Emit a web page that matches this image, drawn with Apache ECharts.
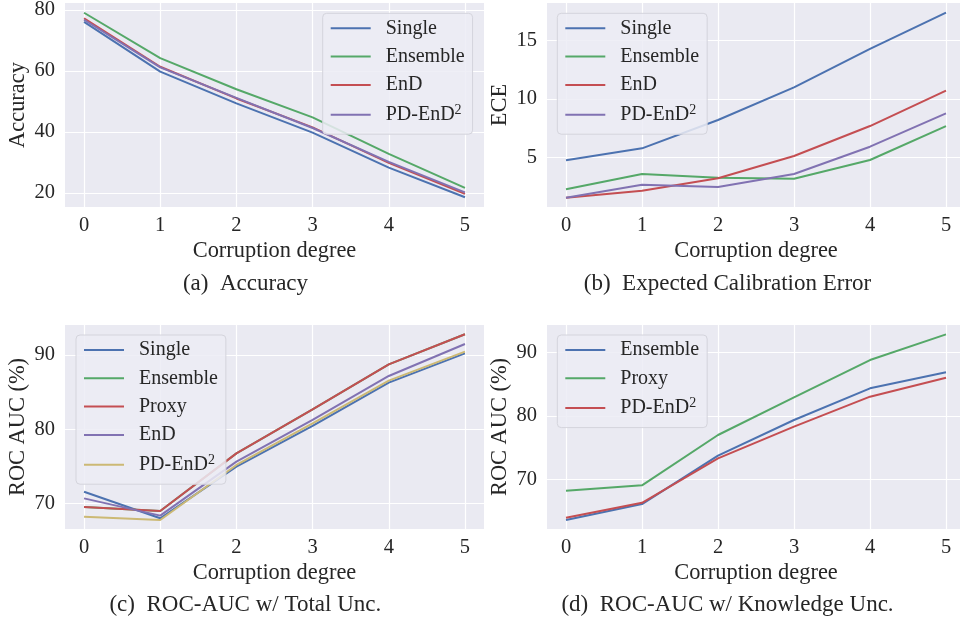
<!DOCTYPE html>
<html>
<head>
<meta charset="utf-8">
<script src="https://cdn.jsdelivr.net/npm/echarts@6/dist/echarts.min.js"></script>
<style>
html,body{margin:0;padding:0;background:#fff;}
#chart{width:960px;height:622px;}
</style>
</head>
<body>
<div id="chart"></div>
<script>
// x positions (corruption degree)
var degrees = [0, 1, 2, 3, 4, 5];
var xTicks = [0, 1, 2, 3, 4, 5];

// (a) Accuracy
var accSingle   = [76.1, 59.8, 49.4, 39.8, 28.3, 18.6];
var accEnsemble = [79.1, 64.2, 54.0, 44.8, 32.8, 21.7];
var accEnD      = [77.3, 61.4, 51.0, 41.5, 29.9, 19.7];
var accPD       = [76.8, 61.2, 51.2, 41.3, 30.2, 20.2];
var accTicks = [20, 40, 60, 80];

// (b) ECE
var eceSingle   = [4.74, 5.77, 8.2, 11.0, 14.3, 17.4];
var eceEnsemble = [2.26, 3.57, 3.25, 3.17, 4.77, 7.68];
var eceEnD      = [1.54, 2.14, 3.2, 5.11, 7.68, 10.71];
var ecePD       = [1.54, 2.65, 2.45, 3.57, 5.91, 8.77];
var eceTicks = [5, 10, 15];

// (c) ROC-AUC w/ total uncertainty
var totSingle   = [71.57, 67.98, 74.94, 80.43, 86.27, 90.22];
var totEnsemble = [69.51, 68.97, 76.74, 82.67, 88.74, 92.79];
var totProxy    = [69.51, 68.97, 76.74, 82.67, 88.74, 92.79];
var totEnD      = [70.67, 68.34, 75.62, 81.24, 87.17, 91.48];
var totPD       = [68.2, 67.75, 75.17, 80.79, 86.54, 90.45];
var aucTicks = [70, 80, 90];

// (d) ROC-AUC w/ knowledge uncertainty
var knoEnsemble = [63.58, 66.1, 73.74, 79.37, 84.37, 86.9];
var knoProxy    = [68.21, 69.05, 77.0, 82.95, 88.84, 92.89];
var knoPD       = [63.95, 66.3, 73.32, 78.32, 83.05, 86.05];

var BLUE='#4C72B0', GREEN='#55A868', RED='#C44E52', PURPLE='#8172B2', YELLOW='#CCB974';
var FONT='"Liberation Serif", "DejaVu Serif", serif';
var TXT='#262626';

var grids=[
	{left:65, top:3, width:419, height:204},
	{left:547, top:3, width:418, height:204},
	{left:65, top:325, width:419, height:204},
	{left:547, top:325, width:418, height:204}
];
var yRanges=[[15.4,82.3],[0.74,18.23],[66.54,94.04],[62.16,94.37]];
var yTickSets=[accTicks, eceTicks, aucTicks, aucTicks];
var yNames=['Accuracy','ECE','ROC AUC (%)','ROC AUC (%)'];

function xAxisFor(i){
	return {
		type:'value', gridIndex:i, min:-0.25, max:5.25,
		name:'Corruption degree', nameLocation:'middle', nameGap:33,
		nameTextStyle:{fontFamily:FONT, fontSize:22.4, color:TXT},
		axisLine:{show:false},
		axisTick:{show:false, customValues:xTicks},
		axisLabel:{customValues:xTicks, margin:8, fontFamily:FONT, fontSize:20.5, color:TXT},
		splitLine:{show:true, lineStyle:{color:'#ffffff', width:1.2}}
	};
}
function yAxisFor(i){
	return {
		type:'value', gridIndex:i, min:yRanges[i][0], max:yRanges[i][1],
		name:yNames[i], nameLocation:'middle', nameGap:36, nameRotate:90,
		nameTextStyle:{fontFamily:FONT, fontSize:22.4, color:TXT},
		axisLine:{show:false},
		axisTick:{show:false, customValues:yTickSets[i]},
		axisLabel:{customValues:yTickSets[i], margin:10, fontFamily:FONT, fontSize:20.5, color:TXT},
		splitLine:{show:true, lineStyle:{color:'#ffffff', width:1.2}}
	};
}
function line(panel, name, vals, color, gi){
	return {
		name:panel+'|'+name, type:'line', xAxisIndex:gi, yAxisIndex:gi,
		data:degrees.map(function(d,k){return [d, vals[k]];}),
		symbol:'none', silent:true,
		lineStyle:{color:color, width:2},
		itemStyle:{color:color}
	};
}
function legendFor(panel, names, left, top){
	return {
		orient:'vertical', left:left, top:top,
		data:names.map(function(n){return panel+'|'+n;}),
		icon:'rect', itemWidth:40, itemHeight:2, itemGap:8.3,
		backgroundColor:'rgba(236,236,244,0.85)', borderColor:'#d4d4dc', borderWidth:1, borderRadius:4,
		padding:[5,8,8,8],
		selectedMode:false,
		formatter:function(n){
			var s=n.split('|')[1];
			if(s==='PD-EnD²') return 'PD-EnD{s|2}';
			return s;
		},
		textStyle:{fontFamily:FONT, fontSize:20, color:TXT, lineHeight:20, padding:[0,0,0,10],
			rich:{s:{fontFamily:FONT, fontSize:14, lineHeight:20, padding:[0,0,9,0], color:TXT}}}
	};
}
function caption(text, cx, cy){
	return {type:'text', x:cx, y:cy, style:{text:text, fontFamily:FONT, fontSize:23, fill:TXT, align:'center', verticalAlign:'middle'}};
}

var chart=echarts.init(document.getElementById('chart'), null, {renderer:'canvas'});
var option={
	animation:false,
	backgroundColor:'#ffffff',
	grid:grids.map(function(g){return {left:g.left, top:g.top, width:g.width, height:g.height, show:true, backgroundColor:'#EAEAF2', borderWidth:0, containLabel:false, outerBoundsMode:'none'};}),
	xAxis:[0,1,2,3].map(xAxisFor),
	yAxis:[0,1,2,3].map(yAxisFor),
	legend:[
		legendFor('a',['Single','Ensemble','EnD','PD-EnD²'],322.7,13.3),
		legendFor('b',['Single','Ensemble','EnD','PD-EnD²'],557.3,13.3),
		legendFor('c',['Single','Ensemble','Proxy','EnD','PD-EnD²'],76,335),
		legendFor('d',['Ensemble','Proxy','PD-EnD²'],557.3,335)
	],
	series:[
		line('a','Single',accSingle,BLUE,0),
		line('a','Ensemble',accEnsemble,GREEN,0),
		line('a','EnD',accEnD,RED,0),
		line('a','PD-EnD²',accPD,PURPLE,0),
		line('b','Single',eceSingle,BLUE,1),
		line('b','Ensemble',eceEnsemble,GREEN,1),
		line('b','EnD',eceEnD,RED,1),
		line('b','PD-EnD²',ecePD,PURPLE,1),
		line('c','Single',totSingle,BLUE,2),
		line('c','Ensemble',totEnsemble,GREEN,2),
		line('c','Proxy',totProxy,RED,2),
		line('c','EnD',totEnD,PURPLE,2),
		line('c','PD-EnD²',totPD,YELLOW,2),
		line('d','Ensemble',knoEnsemble,BLUE,3),
		line('d','Proxy',knoProxy,GREEN,3),
		line('d','PD-EnD²',knoPD,RED,3)
	],
	graphic:[
		caption('(a)  Accuracy', 245.5, 284),
		caption('(b)  Expected Calibration Error', 727.5, 284),
		caption('(c)  ROC-AUC w/ Total Unc.', 245.3, 605),
		caption('(d)  ROC-AUC w/ Knowledge Unc.', 727.5, 605)
	]
};
chart.setOption(option);
</script>
</body>
</html>
